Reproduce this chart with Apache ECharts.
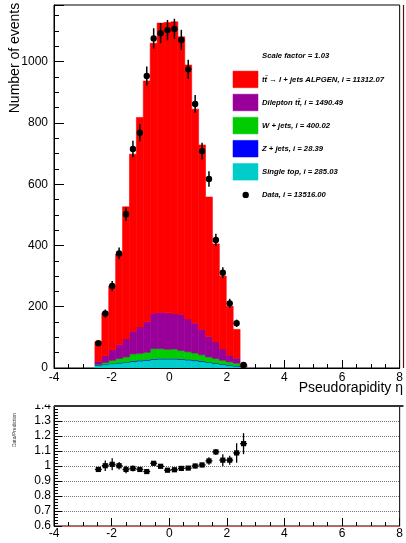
<!DOCTYPE html>
<html><head><meta charset="utf-8">
<script src="https://cdn.jsdelivr.net/npm/echarts@6/dist/echarts.min.js"></script>
<style>html,body{margin:0;padding:0;background:#fff}#c{width:406px;height:543px}</style>
</head><body><div id="c"></div>
<script>
// ---- data ----
const binEdges = [-2.58,-2.34,-2.10,-1.86,-1.62,-1.38,-1.14,-0.90,-0.66,-0.42,-0.18,0.06,0.30,0.54,0.78,1.02,1.26,1.50,1.74,1.98,2.22,2.46,2.70];
const ttbarLJets = [64,140,209,296,431,578,684,786,881,944,948,952,906,829,699,602,456,320,238,160,94,4];
const dilepton   = [10,22,34,45,59,74,86,100,116,119,119,116,118,107,97,83,66,54,37,22,16,5];
const wJets      = [3,6,10,14,17,23,23,24,33,32,30,31,27,25,23,20,17,15,12,10,9,2];
const zJets      = [1,1,1,1,1,2,2,2,2,2,2,2,2,2,2,2,1,1,1,1,1,0];
const singleTop  = [8,11,14,16,18,21,23,25,28,29,29,29,28,26,24,21,18,15,12,9,6,1];
const dataCounts = [81,178,268,374,502,715,768,953,1076,1093,1103,1107,1071,975,862,708,617,418,311,211,146,10];
const dataErrors = [9,13,16,19,22,27,28,31,33,33,33,33,33,31,29,27,25,20,18,15,12,3];
const ratioValues = [0.977,1.002,1.011,1.002,0.977,0.984,0.977,0.963,1.018,0.998,0.972,0.975,0.984,0.986,1.0,1.007,1.034,1.094,1.039,1.039,1.087,1.149];
const ratioErrors = [0.012,0.035,0.04,0.025,0.025,0.02,0.015,0.012,0.015,0.012,0.01,0.01,0.01,0.012,0.015,0.015,0.025,0.02,0.04,0.03,0.065,0.07];
const legendLines = [
  'Scale factor = 1.03',
  't\u0074\u0304 \u2192 l + jets ALPGEN, i = 11312.07',
  'Dilepton t\u0074\u0304, i = 1490.49',
  'W + jets, i = 400.02',
  'Z + jets, i = 28.39',
  'Single top, i = 285.03',
  'Data, i = 13516.00'
];

const processes = [
  {name:'Single top', values:singleTop, color:'#00cccc'},
  {name:'Z + jets', values:zJets, color:'#0000ff'},
  {name:'W + jets', values:wJets, color:'#00cc00'},
  {name:'Dilepton', values:dilepton, color:'#990099'},
  {name:'ttbar l+jets', values:ttbarLJets, color:'#ff0000'}
];
const legendColors = ['#ff0000','#990099','#00cc00','#0000ff','#00cccc'];

const FONT = 'Liberation Sans, Arial, Helvetica, sans-serif';

const chart = echarts.init(document.getElementById('c'), null, {renderer:'canvas'});

const cum = binEdges.slice(0,-1).map(()=>0);
const series = [];
processes.forEach(p => {
  const rows = p.values.map((v,i) => {
    const base = cum[i];
    cum[i] += v;
    return [binEdges[i], binEdges[i+1], base, cum[i]];
  });
  series.push({
    type:'custom', name:p.name, xAxisIndex:0, yAxisIndex:0, clip:true,
    itemStyle:{color:p.color},
    encode:{x:[0,1], y:[2,3]},
    data: rows,
    renderItem:function(params, api){
      const a = api.coord([api.value(0), api.value(3)]);
      const b = api.coord([api.value(1), api.value(2)]);
      return {type:'rect', shape:{x:a[0], y:a[1], width:b[0]-a[0], height:b[1]-a[1]},
        style:{fill:p.color, stroke:p.color, lineWidth:0.6}};
    }
  });
});

series.push({
  type:'custom', name:'Data', xAxisIndex:0, yAxisIndex:0, clip:false, z:5,
  encode:{x:0, y:1},
  data: dataCounts.map((v,i)=>[(binEdges[i]+binEdges[i+1])/2, v, dataErrors[i]]),
  renderItem:function(params, api){
    const c = api.coord([api.value(0), api.value(1)]);
    const lo = api.coord([api.value(0), api.value(1)-api.value(2)]);
    const hi = api.coord([api.value(0), api.value(1)+api.value(2)]);
    return {type:'group', children:[
      {type:'line', shape:{x1:c[0], y1:lo[1], x2:c[0], y2:hi[1]}, style:{stroke:'#000', lineWidth:1.5}},
      {type:'circle', shape:{cx:c[0], cy:c[1], r:3.2}, style:{fill:'#000'}}
    ]};
  }
});

series.push({
  type:'custom', name:'Ratio', xAxisIndex:1, yAxisIndex:1, clip:true, z:5,
  encode:{x:0, y:1},
  data: ratioValues.map((v,i)=>[(binEdges[i]+binEdges[i+1])/2, v, ratioErrors[i], binEdges[i], binEdges[i+1]]),
  renderItem:function(params, api){
    const c = api.coord([api.value(0), api.value(1)]);
    const lo = api.coord([api.value(0), api.value(1)-api.value(2)]);
    const hi = api.coord([api.value(0), api.value(1)+api.value(2)]);
    const l = api.coord([api.value(3), api.value(1)]);
    const r = api.coord([api.value(4), api.value(1)]);
    return {type:'group', children:[
      {type:'line', shape:{x1:c[0], y1:lo[1], x2:c[0], y2:hi[1]}, style:{stroke:'#000', lineWidth:1.3}},
      {type:'line', shape:{x1:l[0], y1:c[1], x2:r[0], y2:c[1]}, style:{stroke:'#000', lineWidth:1.3}},
      {type:'rect', shape:{x:c[0]-2.6, y:c[1]-2.6, width:5.2, height:5.2}, style:{fill:'#000'}}
    ]};
  }
});

const graphics = [];
const legX = 233, textX = 262, legY0 = 56.3, legDy = 23.1;
legendLines.forEach((t,k)=>{
  const cy = legY0 + k*legDy;
  if (k>=1 && k<=5) {
    graphics.push({type:'rect', shape:{x:legX, y:cy-8.3, width:25, height:16.6},
      style:{fill:legendColors[k-1], stroke:legendColors[k-1], lineWidth:0.5}, z:20});
  }
  if (k===6) {
    graphics.push({type:'circle', shape:{cx:245.7, cy:cy, r:3.2}, style:{fill:'#000'}, z:20});
  }
  graphics.push({type:'text', x:textX, y:cy, z:20,
    style:{text:t, fill:'#000', font:'italic bold 7.7px '+FONT, verticalAlign:'middle', align:'left'}});
});
graphics.push({type:'text', x:15, y:58, rotation:Math.PI/2, z:20,
  style:{text:'Number of events', fill:'#000', font:'14px '+FONT, align:'center', verticalAlign:'middle'}});
graphics.push({type:'text', x:403, y:388, z:20,
  style:{text:'Pseudorapidity \u03b7', fill:'#000', font:'14px '+FONT, align:'right', verticalAlign:'middle'}});
graphics.push({type:'text', x:15, y:430, rotation:Math.PI/2, z:20,
  style:{text:'Data/Prediction', fill:'#333', font:'5px '+FONT, align:'center', verticalAlign:'middle'}});
graphics.push({type:'rect', shape:{x:20, y:394, width:33, height:10.5}, style:{fill:'#fff'}, z:50});
graphics.push({type:'line', shape:{x1:54, y1:406, x2:403.5, y2:406}, style:{stroke:'#333', lineWidth:2}, z:50});
graphics.push({type:'line', shape:{x1:403.5, y1:5, x2:403.5, y2:368}, style:{stroke:'#5a1010', lineWidth:1.2}, z:50});

const axisCommonX = {
  type:'value', min:-4, max:8, interval:2,
  axisLine:{show:true, onZero:false, lineStyle:{color:'#000', width:1}},
  axisTick:{show:true, inside:true, length:8, lineStyle:{color:'#000'}},
  minorTick:{show:true, splitNumber:4, length:4, lineStyle:{color:'#000'}},
  splitLine:{show:false},
  axisLabel:{color:'#000', fontSize:12, fontFamily:FONT, margin:4}
};

const option = {
  animation:false,
  backgroundColor:'#fff',
  grid:[
    {left:54, top:5, width:349.5, height:363, show:true, borderColor:'#000', borderWidth:1, backgroundColor:'transparent'},
    {left:54, top:406, width:349.5, height:120, show:true, borderColor:'#000', borderWidth:1, backgroundColor:'transparent'}
  ],
  xAxis:[
    Object.assign({}, axisCommonX, {gridIndex:0}),
    Object.assign({}, axisCommonX, {gridIndex:1,
      axisLine:{show:true, onZero:false, lineStyle:{color:'#d9534f', width:1.2}},
      axisLabel:{color:'#000', fontSize:12, fontFamily:FONT, margin:2}})
  ],
  yAxis:[
    {gridIndex:0, type:'value', min:0, max:1185, interval:200,
      axisLine:{show:true, onZero:false, lineStyle:{color:'#000'}},
      axisTick:{show:true, inside:true, length:10, lineStyle:{color:'#000'}},
      minorTick:{show:true, splitNumber:4, length:5, lineStyle:{color:'#000'}},
      splitLine:{show:false},
      axisLabel:{color:'#000', fontSize:12, fontFamily:FONT, margin:6, showMaxLabel:false,
        formatter:function(v){return String(v);}}},
    {gridIndex:1, type:'value', min:0.6, max:1.4, interval:0.1,
      axisLine:{show:true, onZero:false, lineStyle:{color:'#000'}},
      axisTick:{show:true, inside:true, length:8, lineStyle:{color:'#000'}},
      minorTick:{show:true, splitNumber:5, length:4, lineStyle:{color:'#000'}},
      splitLine:{show:true, lineStyle:{color:'#777', type:'dotted', width:1}},
      axisLabel:{color:'#000', fontSize:12, fontFamily:FONT, margin:3,
        formatter:function(v){return String(Math.round(v*10)/10);}}}
  ],
  graphic:graphics,
  series:series
};
chart.setOption(option);
</script>
</body></html>
